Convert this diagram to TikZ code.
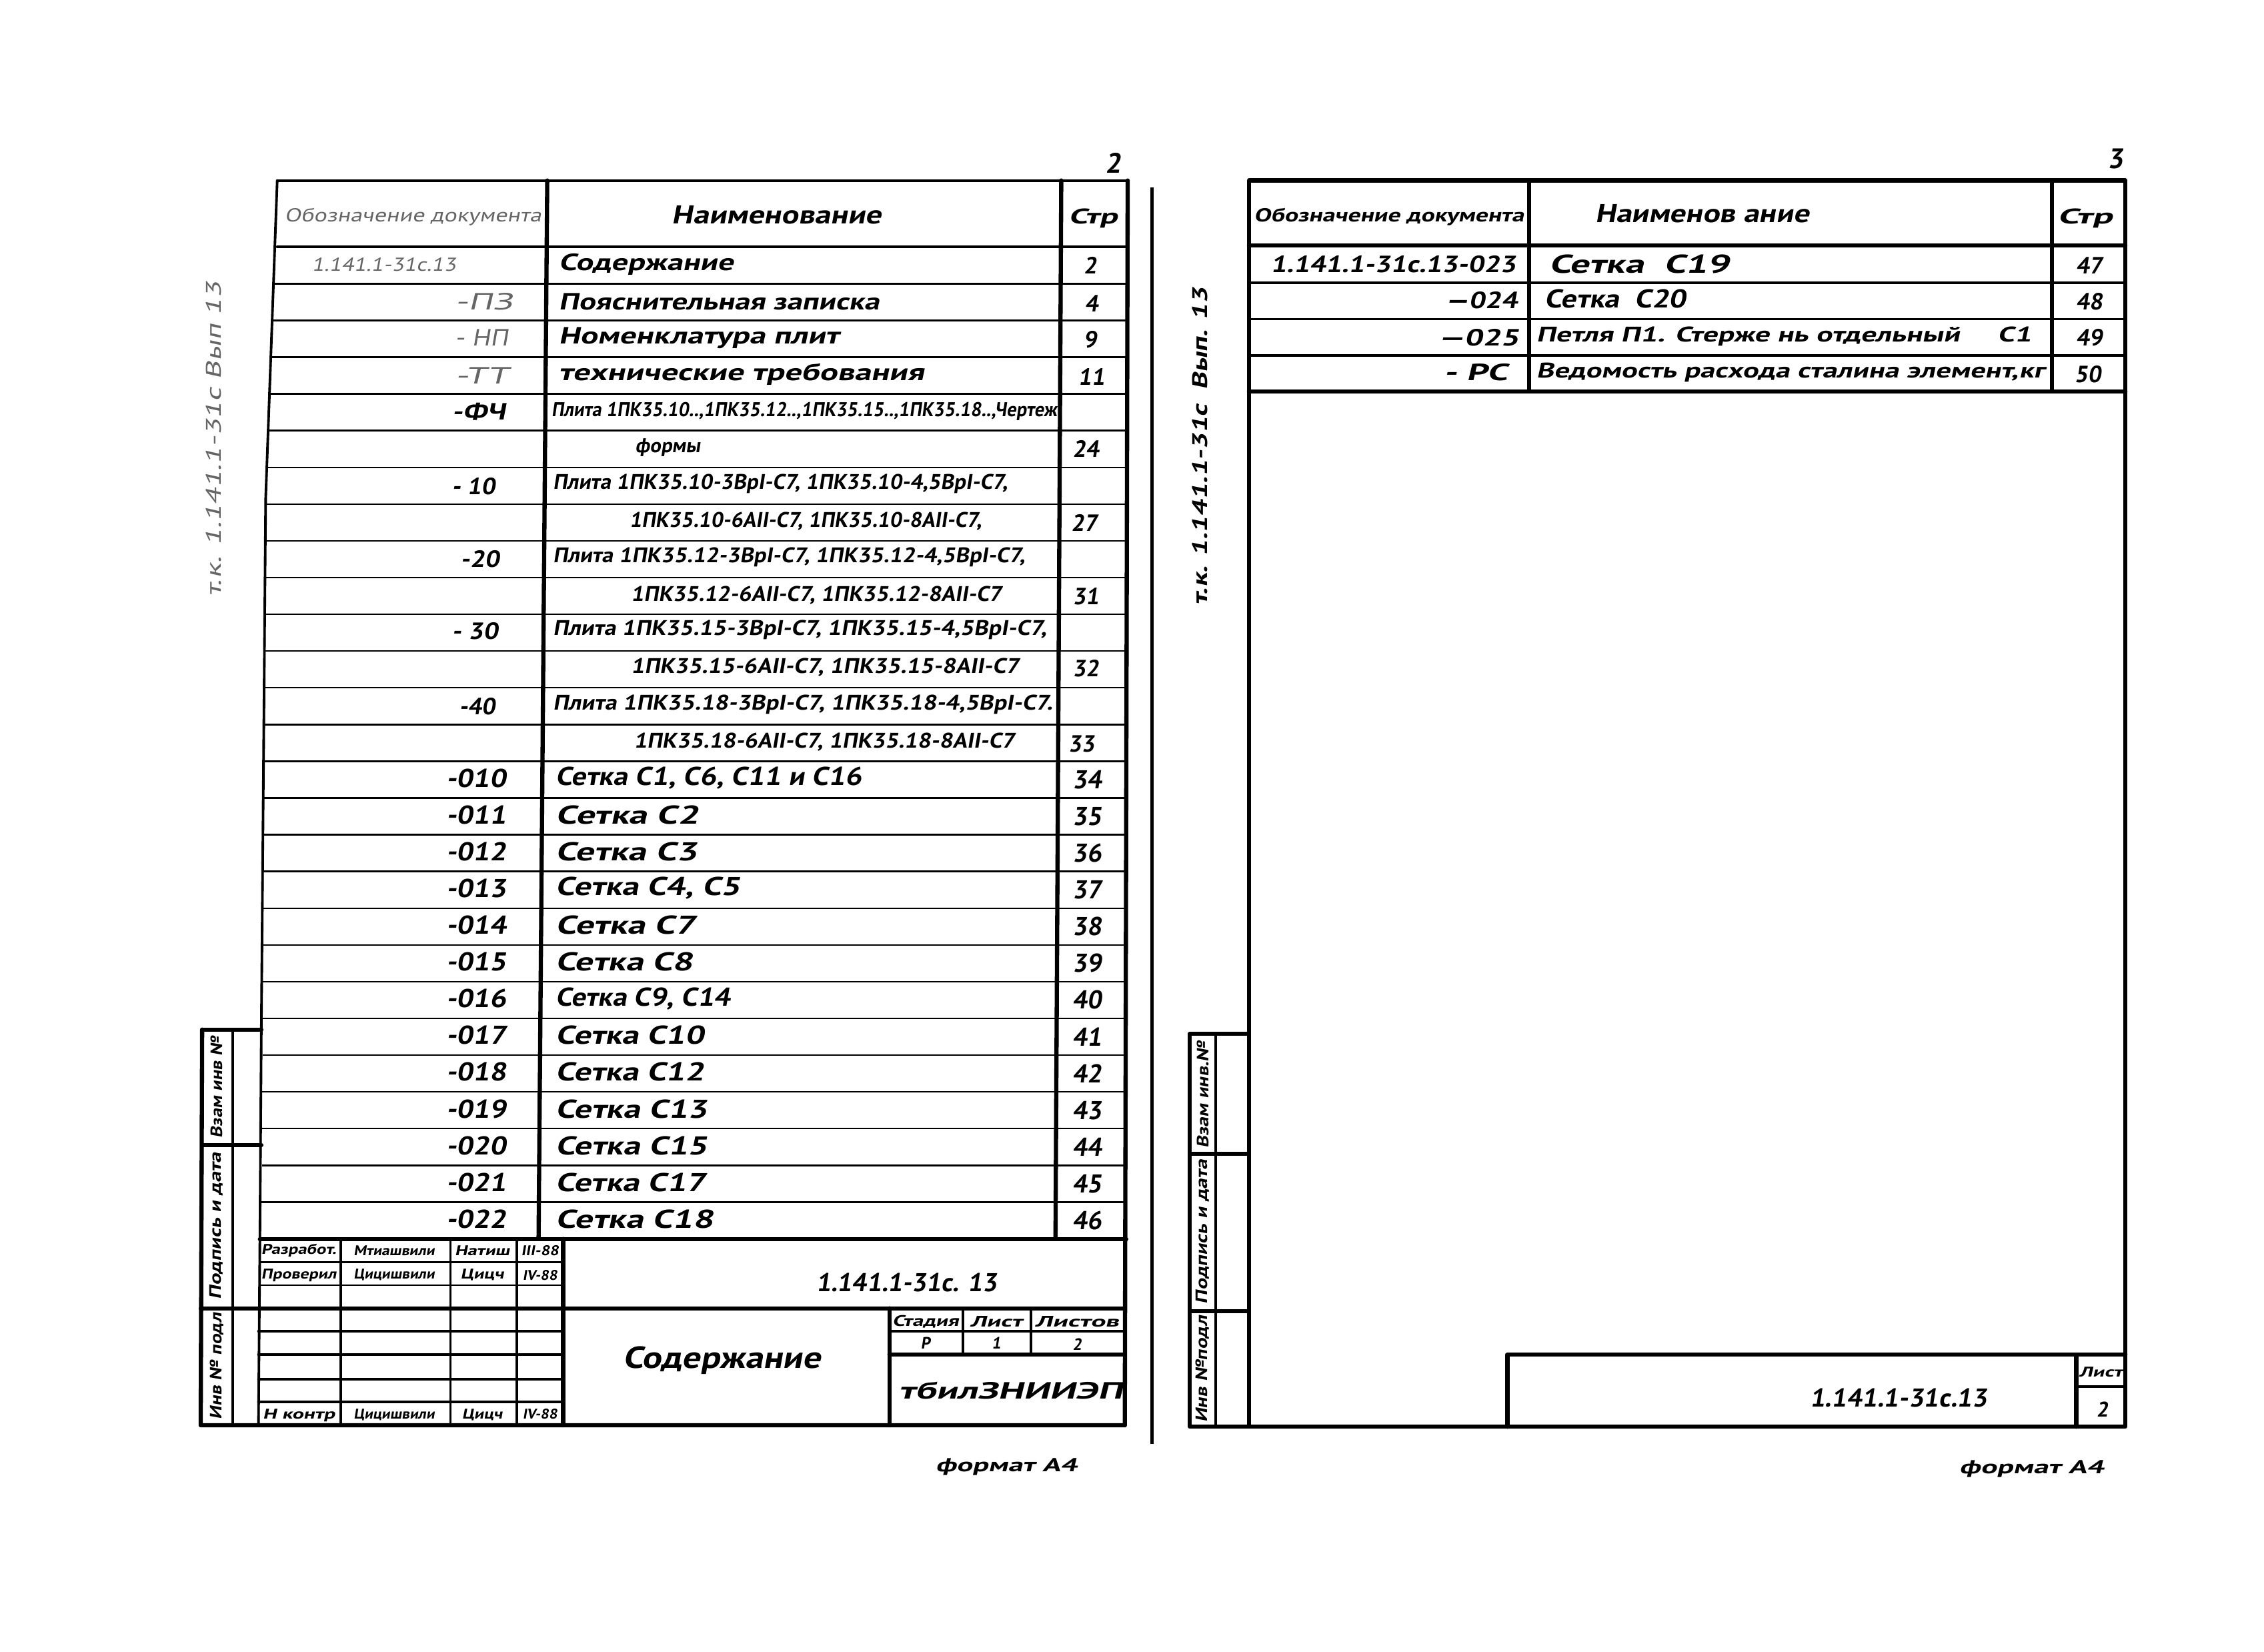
\documentclass[tikz,border=0pt]{standalone}
\usepackage{fontspec}
\setmainfont{PT Sans}[FakeSlant=0.15]
\usepackage{graphicx}
\newlength\pxu
\setlength\pxu{0.021652cm}
\newcommand\W[2]{\resizebox{#1\pxu}{\height}{#2}}
\newcommand\fsz[1]{\fontsize{#1pt}{#1pt}\selectfont}
\tikzset{
  thk/.style={line width=1.8pt, line cap=round, line join=round},
  med/.style={line width=1.1pt, line cap=round},
  thn/.style={line width=0.7pt},
  txt/.style={inner sep=0pt, outer sep=0pt, font=\bfseries},
  fnt/.style={text=black!60, font=\mdseries},
}
\begin{document}
\begin{tikzpicture}[x=\pxu, y=-\pxu]
\useasboundingbox (0,0) rectangle (1568,1144);
\fill[white] (0,0) rectangle (1568,1144);

% ================= LEFT PAGE =================
\draw[med] (192,125) -- (781,125);
\draw[thk] (781,125) -- (779,987);
\draw[med] (192,125) -- (184,345) -- (181,711) -- (180,858) -- (179,987);
\draw[thk] (379,125) -- (373,858);
\draw[thk] (735,125) -- (731,858);
\draw[med] (192,171) -- (780,171);
\foreach \k in {1,...,26} {
  \pgfmathsetmacro\yy{171+25.44*\k}
  \pgfmathsetmacro\xl{\yy<345 ? 192-(\yy-125)*8/220 : 184-(\yy-345)*3/513}
  \draw[thn] (\xl,\yy) -- (780,\yy);
}
\draw[thk] (180,858) -- (780,858);
% side stamp
\draw[thk] (140,713) -- (181,713);
\draw[thk] (140,713) -- (139,987) -- (779,987);
\draw[med] (161,713) -- (161,987);
\draw[thk] (140,793) -- (181,793);
\draw[thk] (139,906) -- (180,906);
% title block
\draw[med] (236,858) -- (236,987);
\draw[med] (312,858) -- (312,987);
\draw[med] (358,858) -- (358,987);
\draw[thk] (390,858) -- (390,987);
\draw[thn] (179,874) -- (390,874);
\draw[thn] (179,890) -- (390,890);
\draw[thk] (179,906) -- (779,906);
\draw[med] (179,922) -- (390,922);
\draw[med] (179,938) -- (390,938);
\draw[med] (179,955) -- (390,955);
\draw[med] (179,971) -- (390,971);
\draw[thk] (616,906) -- (616,987);
\draw[med] (667,906) -- (667,938);
\draw[med] (714,906) -- (714,938);
\draw[med] (616,922) -- (779,922);
\draw[thk] (616,938) -- (779,938);

% page separator
\draw[line width=1.5pt] (798,130) -- (798,1000);

% ================= RIGHT PAGE =================
\draw[thk] (865,125) rectangle (1472,988);
\draw[thk] (865,170) -- (1472,170);
\draw[thk] (1059,125) -- (1059,271);
\draw[thk] (1421,125) -- (1421,271);
\draw[med] (865,196) -- (1472,196);
\draw[med] (865,221) -- (1472,221);
\draw[med] (865,246) -- (1472,246);
\draw[thk] (865,271) -- (1472,271);
% side stamp
\draw[thk] (824,716) -- (865,716);
\draw[thk] (824,716) -- (824,988) -- (865,988);
\draw[med] (842,716) -- (842,988);
\draw[thk] (824,799) -- (865,799);
\draw[thk] (824,908) -- (865,908);
% title block
\draw[thk] (1044,988) -- (1044,938) -- (1472,938);
\draw[thk] (1438,938) -- (1438,988);
\draw[med] (1438,960) -- (1472,960);

% ================= TEXTS LEFT =================
\node[txt] (pg2) at (771,113) {\fsz{12}2};
\node[txt,fnt] (vl) at (148,304) [rotate=90] {\fsz{9}\W{218}{т.к. 1.141.1-31с Вып 13}};
\node[txt,fnt] (lh1) at (286,150) {\fsz{8}\W{178}{Обозначение документа}};
\node[txt] (lh2) at (538,149) {\fsz{11}\W{145}{Наименование}};
\node[txt] (lh3) at (757,151) {\fsz{9}\W{34}{Стр}};

\node[txt,fnt] (d1) at (266,183) {\fsz{8}\W{100}{1.141.1-31с.13}};
\node[txt,anchor=west] (n1) at (387,183) {\fsz{10}\W{121}{Содержание}};
\node[txt] (p1) at (755,184) {\fsz{10}2};
\node[txt,anchor=east,fnt] (d2) at (355,209) {\fsz{10}\W{40}{-ПЗ}};
\node[txt,anchor=west] (n2) at (387,209) {\fsz{10}\W{222}{Пояснительная записка}};
\node[txt] (p2) at (756,210) {\fsz{10}4};
\node[txt,anchor=east,fnt] (d3) at (352,234) {\fsz{10}\W{37}{- НП}};
\node[txt,anchor=west] (n3) at (387,234) {\fsz{10}\W{194}{Номенклатура плит}};
\node[txt] (p3) at (755,235) {\fsz{10}9};
\node[txt,anchor=east,fnt] (d4) at (352,260) {\fsz{10}\W{37}{-ТТ}};
\node[txt,anchor=west] (n4) at (387,259) {\fsz{10}\W{253}{технические требования}};
\node[txt] (p4) at (756,261) {\fsz{10}11};
\node[txt,anchor=east] (d5) at (350,285) {\fsz{10}\W{37}{-ФЧ}};
\node[txt,anchor=west] (n5) at (382,285) {\fsz{8.5}\W{350}{Плита 1ПК35.10..,1ПК35.12..,1ПК35.15..,1ПК35.18..,Чертеж}};
\node[txt,anchor=west] (n6) at (440,310) {\fsz{8.5}\W{45}{формы}};
\node[txt] (p6) at (752,311) {\fsz{10}24};
\node[txt,anchor=east] (d7) at (343,337) {\fsz{10}\W{30}{- 10}};
\node[txt,anchor=west] (n7) at (383,335) {\fsz{9}\W{315}{Плита 1ПК35.10-3ВрI-С7, 1ПК35.10-4,5ВрI-С7,}};
\node[txt,anchor=west] (n8) at (436,361) {\fsz{9}\W{244}{1ПК35.10-6АII-С7, 1ПК35.10-8АII-С7,}};
\node[txt] (p8) at (751,362) {\fsz{10}27};
\node[txt,anchor=east] (d9) at (346,387) {\fsz{10}\W{27}{-20}};
\node[txt,anchor=west] (n9) at (383,386) {\fsz{9}\W{327}{Плита 1ПК35.12-3ВрI-С7, 1ПК35.12-4,5ВрI-С7,}};
\node[txt,anchor=west] (n10) at (437,412) {\fsz{9}\W{257}{1ПК35.12-6АII-С7,  1ПК35.12-8АII-С7}};
\node[txt] (p10) at (752,413) {\fsz{10}31};
\node[txt,anchor=east] (d11) at (345,437) {\fsz{10}\W{32}{- 30}};
\node[txt,anchor=west] (n11) at (383,436) {\fsz{9}\W{342}{Плита 1ПК35.15-3ВрI-С7, 1ПК35.15-4,5ВрI-С7,}};
\node[txt,anchor=west] (n12) at (437,462) {\fsz{9}\W{269}{1ПК35.15-6АII-С7, 1ПК35.15-8АII-С7}};
\node[txt] (p12) at (752,463) {\fsz{10}32};
\node[txt,anchor=east] (d13) at (343,489) {\fsz{10}\W{25}{-40}};
\node[txt,anchor=west] (n13) at (383,488) {\fsz{9}\W{346}{Плита 1ПК35.18-3ВрI-С7, 1ПК35.18-4,5ВрI-С7.}};
\node[txt,anchor=west] (n14) at (439,514) {\fsz{9}\W{264}{1ПК35.18-6АII-С7, 1ПК35.18-8АII-С7}};
\node[txt] (p14) at (749,515) {\fsz{10}33};

\foreach \ii/\dd/\nn/\ww/\pg in {
15/-010/{Сетка С1, С6, С11 и С16}/212/34,
16/-011/{Сетка С2}/99/35,
17/-012/{Сетка С3}/98/36,
18/-013/{Сетка С4, С5}/128/37,
19/-014/{Сетка С7}/97/38,
20/-015/{Сетка С8}/95/39,
21/-016/{Сетка С9, С14}/121/40,
22/-017/{Сетка С10}/103/41,
23/-018/{Сетка С12}/103/42,
24/-019/{Сетка С13}/105/43,
25/-020/{Сетка С15}/105/44,
26/-021/{Сетка С17}/104/45,
27/-022/{Сетка С18}/109/46}
{
  \pgfmathsetmacro\yy{171+25.44*(\ii-0.5)-1}
  \node[txt,anchor=east] (d\ii) at (351,\yy) {\fsz{11}\W{42}{\dd}};
  \node[txt,anchor=west] (n\ii) at (385,\yy) {\fsz{11}\W{\ww}{\nn}};
  \node[txt] (p\ii) at (753,\yy+1) {\fsz{11}\pg};
}

% title block texts (left)
\node[txt] (tb1) at (207,866) {\fsz{6}\W{52}{Разработ.}};
\node[txt] (tb2) at (273,866) {\fsz{6}\W{56}{Мтиашвили}};
\node[txt] (tb3) at (334,866) {\fsz{6}\W{38}{Натиш}};
\node[txt] (tb4) at (374,866) {\fsz{6}\W{26}{III-88}};
\node[txt] (tb5) at (207,883) {\fsz{6}\W{52}{Проверил}};
\node[txt] (tb6) at (273,883) {\fsz{6}\W{56}{Цицишвили}};
\node[txt] (tb7) at (334,883) {\fsz{6}\W{30}{Цицч}};
\node[txt] (tb8) at (374,883) {\fsz{6}\W{24}{IV-88}};
\node[txt] (tb9) at (207,980) {\fsz{6}\W{50}{Н контр}};
\node[txt] (tb10) at (273,980) {\fsz{6}\W{56}{Цицишвили}};
\node[txt] (tb11) at (334,980) {\fsz{6}\W{28}{Цицч}};
\node[txt] (tb12) at (374,979) {\fsz{6}\W{24}{IV-88}};
\node[txt] (tb13) at (628,888) {\fsz{11}\W{125}{1.141.1-31с. 13}};
\node[txt] (tb14) at (500,942) {\fsz{13}\W{137}{Содержание}};
\node[txt] (tb15) at (641,915) {\fsz{6.5}\W{46}{Стадия}};
\node[txt] (tb16) at (690,915) {\fsz{6.5}\W{36}{Лист}};
\node[txt] (tb17) at (746,915) {\fsz{6.5}\W{58}{Листов}};
\node[txt] (tb18) at (641,930) {\fsz{7}Р};
\node[txt] (tb19) at (690,930) {\fsz{7}1};
\node[txt] (tb20) at (746,931) {\fsz{7}2};
\node[txt] (tb21) at (700,963) {\fsz{10}\W{155}{тбилЗНИИЭП}};
% side stamp texts (left)
\node[txt] (ls1) at (150,753) [rotate=90] {\fsz{7}\W{70}{Взам инв №}};
\node[txt] (ls2) at (150,849) [rotate=90] {\fsz{7}\W{102}{Подпись и дата}};
\node[txt] (ls3) at (150,946) [rotate=90] {\fsz{7}\W{74}{Инв № подл}};
\node[txt] (fa1) at (697,1016) {\fsz{8}\W{98}{формат А4}};

% ================= TEXTS RIGHT =================
\node[txt] (pg3) at (1465,110) {\fsz{12}3};
\node[txt] (vr) at (831,309) [rotate=90] {\fsz{9}\W{220}{т.к. 1.141.1-31с \ Вып. 13}};
\node[txt] (rh1) at (962,150) {\fsz{8}\W{187}{Обозначение документа}};
\node[txt] (rh2) at (1179,148) {\fsz{11}\W{148}{Наименов ание}};
\node[txt] (rh3) at (1444,151) {\fsz{9}\W{38}{Стр}};
\node[txt] (rd1) at (965,183) {\fsz{10}\W{170}{1.141.1-31с.13-023}};
\node[txt,anchor=west] (rn1) at (1073,183) {\fsz{11}\W{125}{Сетка \ С19}};
\node[txt] (rp1) at (1447,184) {\fsz{10}47};
\node[txt,anchor=east] (rd2) at (1051,208) {\fsz{10}\W{50}{—024}};
\node[txt,anchor=west] (rn2) at (1070,207) {\fsz{11}\W{98}{Сетка \ С20}};
\node[txt] (rp2) at (1447,209) {\fsz{10}48};
\node[txt,anchor=east] (rd3) at (1052,234) {\fsz{10}\W{56}{—025}};
\node[txt,anchor=west] (rn3) at (1064,233) {\fsz{9}\W{343}{Петля П1. Стерже нь отдельный \quad С1}};
\node[txt] (rp3) at (1447,234) {\fsz{10}49};
\node[txt,anchor=east] (rd4) at (1044,258) {\fsz{10}\W{44}{- РС}};
\node[txt,anchor=west] (rn4) at (1064,258) {\fsz{9}\W{352}{Ведомость расхода сталина элемент,кг}};
\node[txt] (rp4) at (1446,259) {\fsz{10}50};
% side stamp texts (right)
\node[txt] (rs1) at (833,758) [rotate=90] {\fsz{7}\W{74}{Взам инв.№}};
\node[txt] (rs2) at (833,853) [rotate=90] {\fsz{7}\W{100}{Подпись и дата}};
\node[txt] (rs3) at (833,948) [rotate=90] {\fsz{7}\W{74}{Инв №подл}};
% title block (right)
\node[txt] (rt1) at (1315,968) {\fsz{11}\W{123}{1.141.1-31с.13}};
\node[txt] (rt2) at (1455,950) {\fsz{6}\W{30}{Лист}};
\node[txt] (rt3) at (1456,976) {\fsz{9}2};
\node[txt] (fa2) at (1407,1017) {\fsz{8}\W{100}{формат А4}};
\end{tikzpicture}
\end{document}
